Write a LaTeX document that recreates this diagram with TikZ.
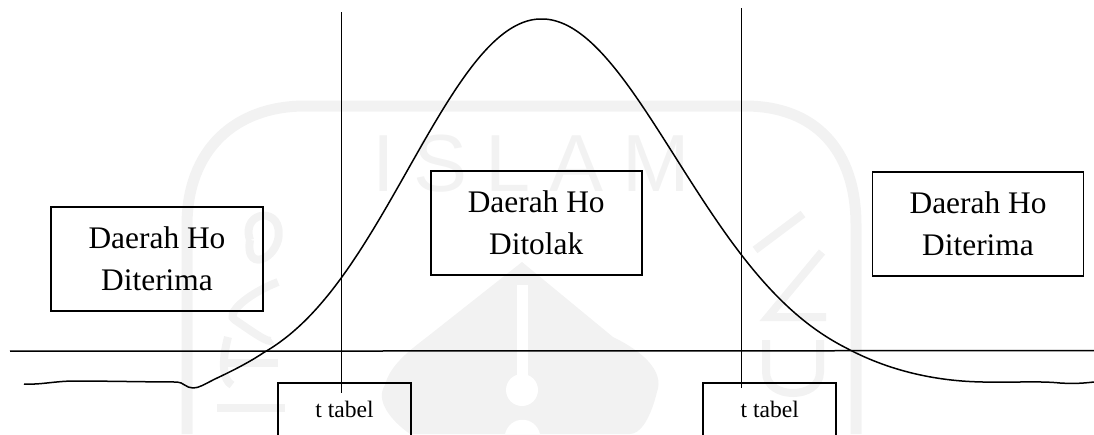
\documentclass[tikz,border=0pt]{standalone}
\usepackage{fontspec}
\setmainfont{Liberation Serif}
\newfontfamily\wmfont[LetterSpace=23]{Liberation Sans}
\tikzset{
  bigbox/.style={draw=black,line width=1.6pt,inner sep=0pt,align=center,font=\fontsize{31.4}{42}\selectfont},
  tbox/.style={draw=black,line width=1.5pt,inner sep=0pt,minimum width=133pt,minimum height=60pt,text depth=8pt,font=\fontsize{23.6}{28}\selectfont},
  ln/.style={black,line width=1.5pt},
  wm/.style={draw=wmgray,line width=11pt},
  wmthin/.style={draw=wmgray,line width=8pt}
}
\definecolor{wmgray}{HTML}{F2F2F2}
\begin{document}
\begin{tikzpicture}[x=1pt,y=-1pt]
\useasboundingbox (0,0) rectangle (1094,434);
\clip (0,0) rectangle (1094,434);
% watermark
\draw[wm] (187,434) -- (187,225) .. controls (187,150) and (235,106) .. (305,106) -- (745,106) .. controls (815,106) and (856,150) .. (856,225) -- (856,434);
\node[text=wmgray,font=\wmfont\fontsize{81}{81}\selectfont,inner sep=0pt] (wmislam) at (531,164) {ISLAM};
\fill[wmgray] (522,262) -- (613,337) .. controls (640,350) and (665,370) .. (657,392) .. controls (650,420) and (640,434) .. (630,434) -- (410,434) .. controls (390,420) and (375,400) .. (385,385) .. controls (390,365) and (410,350) .. (427,337) -- cycle;
\fill[white] (517,285) rectangle (528,390);
\fill[white] (522,390) circle (16pt);
\fill[white] (505,434) .. controls (510,415) and (535,415) .. (540,434) -- cycle;
\draw[wmthin] (755,250) -- (803,214);
\draw[wmthin] (822,252) -- (768,317) -- (826,317);
\draw[wmthin] (766,340) -- (766,372) .. controls (766,400) and (820,400) .. (820,372) -- (820,340);
\draw[wmthin] (250,240) .. controls (240,210) and (285,205) .. (278,240) .. controls (272,262) and (245,270) .. (250,240);
\draw[wmthin] (278,282) .. controls (245,295) and (225,315) .. (235,320) .. controls (250,330) and (270,345) .. (272,340);
\draw[wmthin] (228,337) .. controls (222,360) and (222,380) .. (232,385);
\draw[wmthin] (226,363) -- (278,363);
\draw[wmthin] (217,408) -- (285,408);
% boxes
\node[bigbox,minimum width=211.5pt,minimum height=104pt] (left) at (157,258.7) {Daerah Ho\\Diterima};
\node[bigbox,minimum width=211pt,minimum height=104pt] (mid) at (536.2,222.8) {Daerah Ho\\Ditolak};
\node[bigbox,minimum width=211pt,minimum height=104pt] (right) at (978,224) {Daerah Ho\\Diterima};
\node[tbox] (t1) at (344.5,413) {t tabel};
\node[tbox] (t2) at (769.7,413) {t tabel};
% axis
\coordinate (axL) at (10,351.2);
\coordinate (axR) at (1094,350.6);
\draw[ln] (axL) -- (axR);
% critical lines
\coordinate (v1a) at (341.7,12);
\coordinate (v1b) at (341.7,393);
\coordinate (v2a) at (741.7,8);
\coordinate (v2b) at (741.7,388);
\draw[ln] (v1a) -- (v1b);
\draw[ln] (v2a) -- (v2b);
% curve: tails by hand, bell as a skewed Gaussian
\draw[ln,line join=round]
 (24,384) .. controls (40,385) and (55,381) .. (75,381)
 .. controls (105,381) and (150,382) .. (177,382)
 .. controls (183,382) and (186,388) .. (193,388)
 .. controls (199,388) and (204,384.5) .. (215,379)
 .. controls (232,371) and (250,362) .. (265,351.7)
 -- plot[domain=2.65:5.416,samples=60,smooth] ({100*\x},{382-363*exp(-(5.416-\x)*(5.416-\x)/(2*(1.34-0.03615*(5.416-\x))*(1.34-0.03615*(5.416-\x))))})
 -- plot[domain=5.416:8.467,samples=60,smooth] ({100*\x},{382-363*exp(-(\x-5.416)*(\x-5.416)/(2*(1.34+0.01967*(\x-5.416))*(1.34+0.01967*(\x-5.416))))})
 .. controls (880,366) and (925,381) .. (983,382)
 .. controls (1020,382.5) and (1040,381) .. (1060,383)
 .. controls (1075,384) and (1085,383) .. (1094,382);
\end{tikzpicture}
\end{document}
